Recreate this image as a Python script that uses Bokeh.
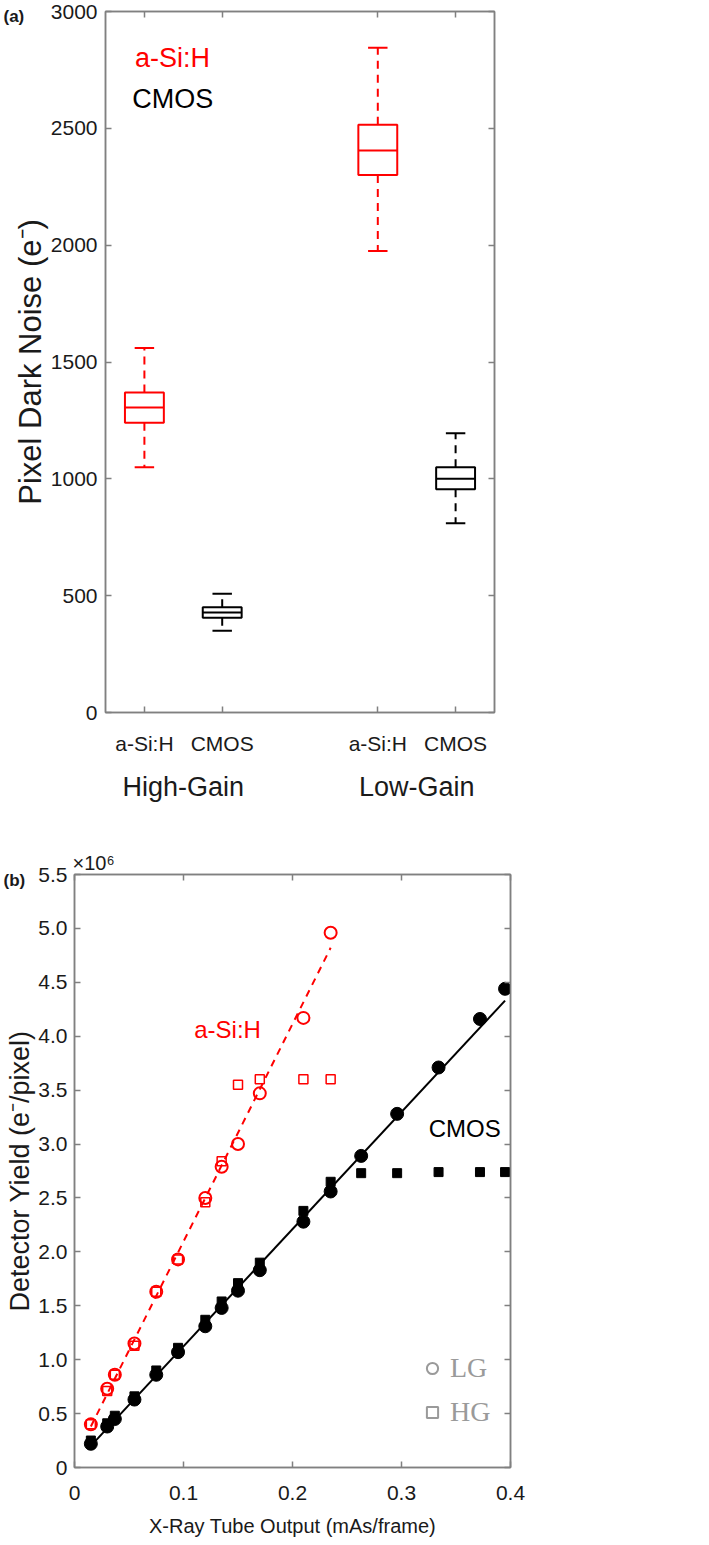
from bokeh.plotting import figure
from bokeh.models import (LinearAxis, FixedTicker, Range1d, Label, Legend, LegendItem,
                          ColumnDataSource, NumeralTickFormatter)
from bokeh.embed import file_html
from bokeh.resources import INLINE

# ---------------- Panel (a): pixel dark noise box plots ----------------
box_pos = [1, 2, 4, 5]
box_labels = ["a-Si:H", "CMOS", "a-Si:H", "CMOS"]
group_pos = [1.5, 4.5]
group_labels = ["High-Gain", "Low-Gain"]
box_low = [1050, 350, 1975, 810]
box_q1 = [1240, 405, 2300, 955]
box_med = [1305, 428, 2405, 1000]
box_q3 = [1370, 450, 2515, 1050]
box_high = [1560, 508, 2845, 1195]
box_colors = ["#ff0000", "#000000", "#ff0000", "#000000"]
noise_ticks = [0, 500, 1000, 1500, 2000, 2500, 3000]

# ---------------- Panel (b): detector yield ----------------
tube_output = [0.015, 0.030, 0.037, 0.055, 0.075, 0.095, 0.120, 0.135, 0.150,
               0.170, 0.210, 0.235, 0.263, 0.296, 0.334, 0.372, 0.395]
cmos_lg = [0.22, 0.38, 0.45, 0.63, 0.86, 1.07, 1.31, 1.48, 1.64, 1.83, 2.28,
           2.56, 2.89, 3.28, 3.71, 4.16, 4.44]
cmos_hg = [0.25, 0.41, 0.48, 0.66, 0.90, 1.11, 1.37, 1.54, 1.71, 1.90, 2.38,
           2.65, 2.73, 2.73, 2.74, 2.74, 2.74]
asi_output = [0.015, 0.030, 0.037, 0.055, 0.075, 0.095, 0.120, 0.135, 0.150,
              0.170, 0.210, 0.235]
asi_lg = [0.40, 0.73, 0.86, 1.15, 1.63, 1.93, 2.50, 2.79, 3.00, 3.47, 4.17, 4.96]
asi_hg = [0.40, 0.71, 0.86, 1.13, 1.63, 1.93, 2.46, 2.84, 3.55, 3.60, 3.60, 3.60]
asi_fit_x = [0.015, 0.235]
asi_fit_y = [0.38, 4.82]
cmos_fit_x = [0.015, 0.395]
cmos_fit_y = [0.20, 4.33]
yield_ticks = [0, 0.5, 1.0, 1.5, 2.0, 2.5, 3.0, 3.5, 4.0, 4.5, 5.0, 5.5]
output_ticks = [0, 0.1, 0.2, 0.3, 0.4]

FONT = "Liberation Sans"
GRAY = "#808080"
TXT = "#1a1a1a"


def style_main_axis(ax, size="21px"):
    ax.major_label_text_font = FONT
    ax.major_label_text_font_size = size
    ax.major_label_text_color = TXT
    ax.axis_label_text_font = FONT
    ax.axis_label_text_font_style = "normal"
    ax.axis_label_text_color = TXT
    ax.major_tick_in = 6
    ax.major_tick_out = 0
    ax.minor_tick_line_color = None
    ax.major_tick_line_color = GRAY
    ax.axis_line_color = GRAY
    ax.axis_line_width = 1.5
    ax.major_tick_line_width = 1.5


def mirror_axis(ticks):
    ax = LinearAxis(ticker=FixedTicker(ticks=ticks))
    ax.major_label_text_font_size = "1px"
    ax.major_label_text_color = None
    ax.major_label_standoff = 0
    ax.major_tick_in = 6
    ax.major_tick_out = 0
    ax.minor_tick_line_color = None
    ax.major_tick_line_color = GRAY
    ax.major_tick_line_width = 1.5
    ax.axis_line_color = GRAY
    ax.axis_line_width = 1.5
    return ax


# ======== figure (a) ========
p1 = figure(frame_width=389, frame_height=701, x_range=Range1d(0.5, 5.5),
            y_range=Range1d(0, 3000), output_backend="svg", toolbar_location=None,
            min_border_left=105, min_border_right=50, min_border_top=11,
            min_border_bottom=100)
p1.grid.visible = False
p1.outline_line_color = GRAY
p1.outline_line_width = 1.5

half_box = 0.25
half_cap = 0.125
src = ColumnDataSource(dict(
    pos=box_pos, low=box_low, q1=box_q1, med=box_med, q3=box_q3, high=box_high,
    color=box_colors,
    bx0=[x - half_box for x in box_pos], bx1=[x + half_box for x in box_pos],
    cx0=[x - half_cap for x in box_pos], cx1=[x + half_cap for x in box_pos],
))
p1.segment(x0="pos", y0="q3", x1="pos", y1="high", source=src, line_color="color",
           line_width=2, line_dash="8 6")
p1.segment(x0="pos", y0="q1", x1="pos", y1="low", source=src, line_color="color",
           line_width=2, line_dash="8 6")
p1.segment(x0="cx0", y0="high", x1="cx1", y1="high", source=src, line_color="color", line_width=2)
p1.segment(x0="cx0", y0="low", x1="cx1", y1="low", source=src, line_color="color", line_width=2)
p1.vbar(x="pos", width=2 * half_box, bottom="q1", top="q3", source=src,
        fill_color=None, line_color="color", line_width=2)
p1.segment(x0="bx0", y0="med", x1="bx1", y1="med", source=src, line_color="color", line_width=2)

xa = p1.xaxis[0]
xa.ticker = FixedTicker(ticks=box_pos)
xa.major_label_overrides = {k: v for k, v in zip(box_pos, box_labels)}
style_main_axis(xa, "21px")
xa.major_label_standoff = 19

ga = LinearAxis(ticker=FixedTicker(ticks=group_pos))
ga.major_label_overrides = {k: v for k, v in zip(group_pos, group_labels)}
ga.major_label_text_font = FONT
ga.major_label_text_font_size = "27px"
ga.major_label_text_color = TXT
ga.major_tick_in = 0
ga.major_tick_out = 0
ga.minor_tick_line_color = None
ga.axis_line_color = None
ga.major_tick_line_color = None
ga.major_label_standoff = 14
p1.add_layout(ga, "below")

ya = p1.yaxis[0]
ya.ticker = FixedTicker(ticks=noise_ticks)
style_main_axis(ya, "21px")
ya.major_label_standoff = 8
ya.axis_label = "Pixel Dark Noise (e\u207b)"
ya.axis_label_text_font_size = "31px"
ya.axis_label_standoff = 0

p1.add_layout(mirror_axis(box_pos), "above")
p1.add_layout(mirror_axis(noise_ticks), "right")

p1.add_layout(Label(x=0.88, y=2803, text="a-Si:H", text_color="#ff0000",
                    text_font=FONT, text_font_size="27px", text_baseline="middle"))
p1.add_layout(Label(x=0.845, y=2627, text="CMOS", text_color="#000000",
                    text_font=FONT, text_font_size="27px", text_baseline="middle"))
p1.add_layout(Label(x=0.5, y=3000, x_offset=-102, y_offset=-5, text="(a)",
                    text_font=FONT, text_font_style="bold", text_font_size="17px",
                    text_baseline="middle", text_color=TXT), "right")

# ======== figure (b) ========
p2 = figure(frame_width=436, frame_height=593, x_range=Range1d(0, 0.4),
            y_range=Range1d(0, 5.5), output_backend="svg", toolbar_location=None,
            min_border_left=74, min_border_right=90, min_border_top=62,
            min_border_bottom=76)
p2.grid.visible = False
p2.outline_line_color = GRAY
p2.outline_line_width = 1.5

p2.line(cmos_fit_x, cmos_fit_y, line_color="#000000", line_width=2)
p2.line(asi_fit_x, asi_fit_y, line_color="#ff0000", line_width=2, line_dash="7 6")

p2.scatter(tube_output, cmos_hg, marker="square", size=9, fill_color="#000000",
           line_color="#000000")
p2.scatter(tube_output, cmos_lg, marker="circle", size=13, fill_color="#000000",
           line_color="#000000")
p2.scatter(asi_output, asi_hg, marker="square", size=9, fill_color=None,
           line_color="#ff0000", line_width=1.5)
p2.scatter(asi_output, asi_lg, marker="circle", size=12, fill_color=None,
           line_color="#ff0000", line_width=2)

xb = p2.xaxis[0]
xb.ticker = FixedTicker(ticks=output_ticks)
xb.formatter = NumeralTickFormatter(format="0.0")
xb.major_label_overrides = {0: "0"}
style_main_axis(xb, "21px")
xb.major_label_standoff = 18
xb.axis_label = "X-Ray Tube Output (mAs/frame)"
xb.axis_label_text_font_size = "20px"
xb.axis_label_standoff = 12

yb = p2.yaxis[0]
yb.ticker = FixedTicker(ticks=yield_ticks)
yb.formatter = NumeralTickFormatter(format="0.0")
yb.major_label_overrides = {0: "0"}
style_main_axis(yb, "21px")
yb.major_label_standoff = 7
yb.axis_label = "Detector Yield (e\u207b/pixel)"
yb.axis_label_text_font_size = "27px"
yb.axis_label_standoff = 0

p2.add_layout(mirror_axis(output_ticks), "above")
p2.add_layout(mirror_axis(yield_ticks), "right")

nan = float("nan")
lg_r = p2.scatter([nan], [nan], marker="circle", fill_color=None, line_color="#9a9a9a",
                  line_width=2)
hg_r = p2.scatter([nan], [nan], marker="square", fill_color=None, line_color="#9a9a9a",
                  line_width=2)
leg = Legend(items=[LegendItem(label="LG", renderers=[lg_r]),
                    LegendItem(label="HG", renderers=[hg_r])],
             location=(344, 39), glyph_width=28, glyph_height=28, label_standoff=4,
             spacing=12, padding=0, margin=0, background_fill_alpha=0,
             border_line_alpha=0, label_text_font="Liberation Serif",
             label_text_font_size="28px", label_text_color="#9a9a9a")
p2.add_layout(leg)

p2.add_layout(Label(x=0.1404, y=4.065, text="a-Si:H", text_color="#ff0000",
                    text_font=FONT, text_font_size="24px", text_baseline="middle",
                    text_align="center"))
p2.add_layout(Label(x=0.358, y=3.148, text="CMOS", text_color="#000000",
                    text_font=FONT, text_font_size="24px", text_baseline="middle",
                    text_align="center"))
p2.add_layout(Label(x=0, y=5.5, x_offset=-2, y_offset=12, text="\u00d710\u2076",
                    text_font=FONT, text_font_size="20px", text_baseline="middle",
                    text_color=TXT), "right")
p2.add_layout(Label(x=0, y=5.5, x_offset=-71, y_offset=-6, text="(b)",
                    text_font=FONT, text_font_style="bold", text_font_size="17px",
                    text_baseline="middle", text_color=TXT), "right")

open("out.html", "w").write(file_html([p1, p2], INLINE))
